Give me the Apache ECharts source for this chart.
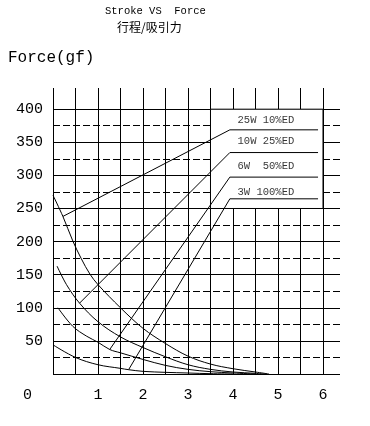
<!DOCTYPE html>
<html>
<head>
<meta charset="utf-8">
<script src="https://cdn.jsdelivr.net/npm/echarts@6/dist/echarts.min.js"></script>
<style>
html,body{margin:0;padding:0;background:#fff;}
#chart{width:370px;height:426px;}
</style>
</head>
<body>
<div id="chart"></div>
<script>
// ---- data (stroke mm, force gf) ----
const curve25W = [[0,270],[0.22,238],[0.44,201],[0.63,174],[0.82,151],[1.0,135],[1.5,100],[2.0,69],[2.5,46],[3.0,27],[3.5,15],[4.0,8],[4.5,3],[4.8,0]];
const curve10W = [[0.09,163],[0.3,135],[0.59,107],[1.0,79],[1.5,56],[2.0,40],[2.5,26],[3.0,14],[3.5,7],[4.0,3],[4.5,1],[4.7,0]];
const curve6W  = [[0.11,100],[0.44,72],[0.75,57],[1.0,48],[1.26,37],[1.5,32],[2.0,22],[2.5,13],[3.0,7],[3.5,3.5],[4.0,1.5],[4.5,0]];
const curve3W  = [[0,44],[0.5,25],[1.0,14],[1.5,8.5],[1.68,6.5],[2.0,4],[2.5,2.5],[3.0,1.5],[3.5,0.5],[4.0,0]];

const leader25W = [[0.22,238],[3.93,368.8],[5.89,368.8]];
const leader10W = [[0.59,107],[3.93,334.5],[5.89,334.5]];
const leader6W  = [[1.26,37],[3.93,297.4],[5.89,297.4]];
const leader3W  = [[1.68,6.5],[3.93,264.6],[5.89,264.6]];

const seriesNames = ['25W 10%ED','10W 25%ED','6W  50%ED','3W 100%ED'];
const labelAnchors = [[4.09,383.8],[4.09,351],[4.09,313.4],[4.09,274.1]];

const gridX = [0,0.5,1,1.5,2,2.5,3,3.5,4,4.5,5,5.5,6];
const solidY = [0,50,100,150,200,250,300,350,400];
const dashedY = [25,75,125,175,225,275,325,375];
const xTickLabels = [1,2,3,4,5,6];
const yTickLabels = [50,100,150,200,250,300,350,400];

const chart = echarts.init(document.getElementById('chart'), null, {renderer:'canvas'});
const mono = 'Liberation Mono';
const black = '#000';

function curve(data){
  return {type:'line', data:data, smooth:0.35, showSymbol:false, symbol:'none', z:3, silent:true,
    lineStyle:{color:black, width:1}};
}
function leader(data){
  return {type:'line', data:data, smooth:false, showSymbol:false, symbol:'none', z:4, silent:true,
    lineStyle:{color:black, width:1}};
}

const option = {
  animation:false,
  backgroundColor:'#fff',
  grid:{left:53, top:88, width:287, height:286, containLabel:false},
  xAxis:{type:'value', min:0, max:6.378, interval:0.5,
    axisLine:{show:false}, axisTick:{show:false}, splitLine:{show:false},
    axisLabel:{margin:14, color:black, fontFamily:mono, fontSize:15, showMaxLabel:false,
      formatter:v => xTickLabels.indexOf(v) >= 0 ? String(v) : ''}},
  yAxis:{type:'value', min:0, max:432, interval:50,
    axisLine:{show:false}, axisTick:{show:false}, splitLine:{show:false},
    axisLabel:{margin:10, color:black, fontFamily:mono, fontSize:15, showMaxLabel:false,
      formatter:v => yTickLabels.indexOf(v) >= 0 ? String(v) : ''}},
  graphic:[
    {type:'text', left:105, top:6, style:{text:'Stroke VS  Force', font:'10.5px "Liberation Mono"', fill:black}},
    {type:'text', left:117, top:21, style:{text:'行程/吸引力', font:'12px "Noto Sans CJK SC"', fill:black}},
    {type:'text', left:8, top:50, style:{text:'Force(gf)', font:'16px "Liberation Mono"', fill:black}},
    {type:'text', left:23, top:388, style:{text:'0', font:'15px "Liberation Mono"', fill:black}}
  ],
  series:[
    {type:'line', data:[], z:1, silent:true,
      markLine:{silent:true, symbol:['none','none'], z:1, label:{show:false}, animation:false,
        lineStyle:{color:black, width:1, type:'solid'},
        emphasis:{disabled:true},
        data: gridX.map(v=>({xAxis:v})).concat(solidY.map(v=>({yAxis:v})))}},
    {type:'line', data:[], z:1, silent:true,
      markLine:{silent:true, symbol:['none','none'], z:1, label:{show:false}, animation:false,
        lineStyle:{color:black, width:1, type:[7,3]},
        emphasis:{disabled:true},
        data: dashedY.map(v=>({yAxis:v}))}},
    {type:'line', data:[], z:2, silent:true,
      markArea:{silent:true, z:2, animation:false,
        itemStyle:{color:'#fff', borderColor:black, borderWidth:1},
        emphasis:{disabled:true},
        data:[[{coord:[3.5,250]},{coord:[6.0,400]}]]}},
    curve(curve25W), curve(curve10W), curve(curve6W), curve(curve3W),
    leader(leader25W), leader(leader10W), leader(leader6W), leader(leader3W),
    {type:'scatter', z:5, silent:true, symbolSize:1, itemStyle:{color:'rgba(0,0,0,0)'},
      data: labelAnchors.map((p,i)=>({value:p, name:seriesNames[i]})),
      label:{show:true, position:'right', distance:0, color:black, fontFamily:mono, fontSize:10.5,
        formatter:p => p.name}}
  ]
};
chart.setOption(option);
</script>
</body>
</html>
